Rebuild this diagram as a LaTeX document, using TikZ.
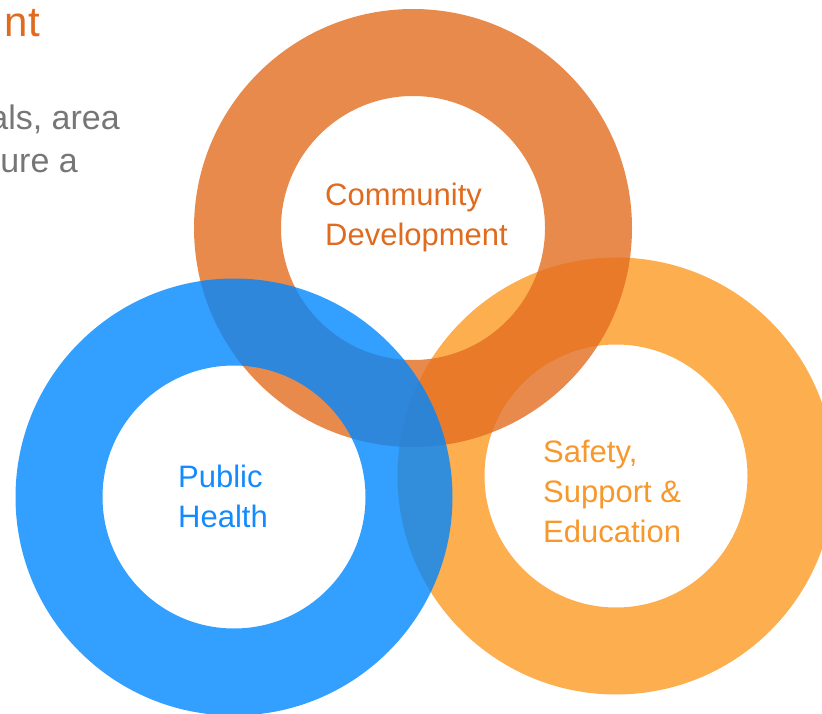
\documentclass[tikz,border=0pt]{standalone}
\usepackage{fontspec}
\setmainfont{Liberation Sans}
\usepackage{xcolor}
\usepackage{tikz}
\definecolor{ringorange}{RGB}{227,109,33}
\definecolor{ringblue}{RGB}{0,135,255}
\definecolor{ringgold}{RGB}{253,174,78}
\definecolor{txtorange}{RGB}{224,106,30}
\definecolor{txtblue}{RGB}{20,138,255}
\definecolor{txtgold}{RGB}{247,152,44}
\definecolor{txtgray}{RGB}{118,118,118}

\begin{document}
\begin{tikzpicture}[x=1pt,y=-1pt,  ring/.style={even odd rule, fill opacity=0.8},  lab/.style={inner sep=0pt, anchor=base west, align=left, font=\fontsize{31}{40}\selectfont},  cut/.style={inner sep=0pt, anchor=base east}]
\useasboundingbox (0,0) rectangle (822,714);
\clip (0,0) rectangle (822,714);
%%%%%%%%%%%%%%%%%%%%%%%%%%%%%%%%%%%%%%%%%%%%%%%%%%
% text cut off at the left edge
%%%%%%%%%%%%%%%%%%%%%%%%%%%%%%%%%%%%%%%%%%%%%%%%%%
  \node[cut, text=txtorange, font=\fontsize{42}{50}\selectfont] (title) at (40,37) {nt};
  \node[cut, text=txtgray, font=\fontsize{34}{43}\selectfont] (line1) at (120,130) {als, area};
  \node[cut, text=txtgray, font=\fontsize{34}{43}\selectfont] (line2) at (78,173) {ure a};
%%%%%%%%%%%%%%%%%%%%%%%%%%%%%%%%%%%%%%%%%%%%%%%%%%
% rings
%%%%%%%%%%%%%%%%%%%%%%%%%%%%%%%%%%%%%%%%%%%%%%%%%%
  \coordinate (cd) at (413,228);
  \coordinate (ph) at (234,497);
  \coordinate (se) at (616,476);

  \fill[ring, ringgold, fill opacity=1] (se) circle (218.5) (se) circle (131.5);
  \fill[ring, ringorange] (cd) circle (219) (cd) circle (132);
  \fill[ring, ringblue] (ph) circle (218.5) (ph) circle (131.5);
%%%%%%%%%%%%%%%%%%%%%%%%%%%%%%%%%%%%%%%%%%%%%%%%%%
% labels (anchored at the baseline of the last line)
%%%%%%%%%%%%%%%%%%%%%%%%%%%%%%%%%%%%%%%%%%%%%%%%%%
  \node[lab, text=txtorange] (community) at (325,246) {Community\\Development};
  \node[lab, text=txtblue] (health) at (178,527) {Public\\Health};
  \node[lab, text=txtgold] (safety) at (543,542) {Safety,\\Support \&\\Education};
\end{tikzpicture}
\end{document}
